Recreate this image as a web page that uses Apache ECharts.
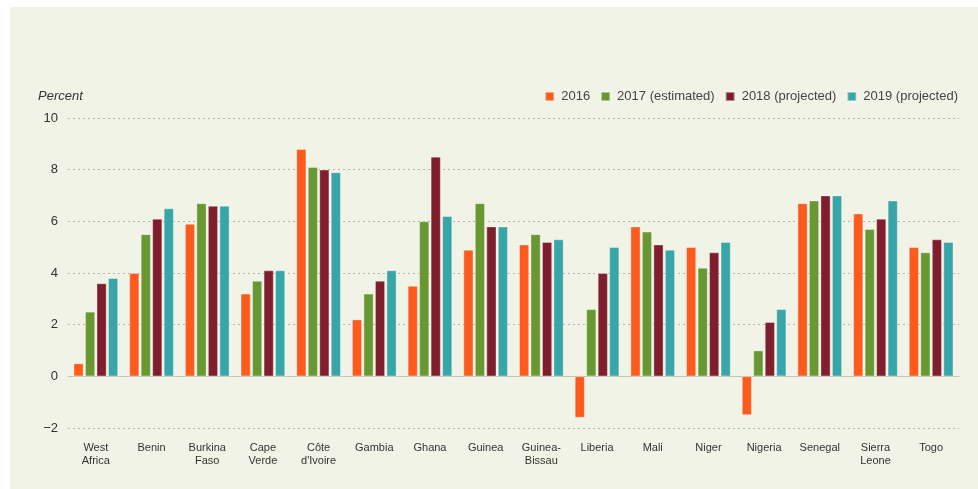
<!DOCTYPE html>
<html>
<head>
<meta charset="utf-8">
<script src="https://cdn.jsdelivr.net/npm/echarts@6/dist/echarts.min.js"></script>
<style>
html,body{margin:0;padding:0;background:#fff;}
#wrap{position:absolute;left:10px;top:7px;width:968px;height:482px;background:#f2f3e7;}
#chart{position:absolute;left:0;top:0;width:978px;height:489px;}
</style>
</head>
<body>
<div id="wrap"></div>
<div id="chart"></div>
<script>
const categories = ["West\nAfrica","Benin","Burkina\nFaso","Cape\nVerde","Côte\nd'Ivoire","Gambia","Ghana","Guinea","Guinea-\nBissau","Liberia","Mali","Niger","Nigeria","Senegal","Sierra\nLeone","Togo"];
const seriesNames = ["2016","2017 (estimated)","2018 (projected)","2019 (projected)"];
const v2016 = [0.5,4.0,5.9,3.2,8.8,2.2,3.5,4.9,5.1,-1.6,5.8,5.0,-1.5,6.7,6.3,5.0];
const v2017 = [2.5,5.5,6.7,3.7,8.1,3.2,6.0,6.7,5.5,2.6,5.6,4.2,1.0,6.8,5.7,4.8];
const v2018 = [3.6,6.1,6.6,4.1,8.0,3.7,8.5,5.8,5.2,4.0,5.1,4.8,2.1,7.0,6.1,5.3];
const v2019 = [3.8,6.5,6.6,4.1,7.9,4.1,6.2,5.8,5.3,5.0,4.9,5.2,2.6,7.0,6.8,5.2];
const yTicks = {min:-2, max:10, interval:2};
const colors = ["#fd5b1e","#689832","#7f1f2e","#38a5a8"];
const allValues = [v2016,v2017,v2018,v2019];

const chart = echarts.init(document.getElementById('chart'), null, {renderer:'canvas'});
const font = "'Liberation Sans', Arial, sans-serif";
chart.setOption({
  backgroundColor: 'transparent',
  animation: false,
  color: colors,
  title: {
    text: 'Percent', left: 38, top: 90, padding: 0,
    textStyle: {fontFamily: font, fontStyle: 'italic', fontWeight: 'normal', fontSize: 13, color: '#333'}
  },
  legend: {
    right: 20, top: 90, itemWidth: 9, itemHeight: 9, itemGap: 10, padding: 0,
    icon: 'rect',
    textStyle: {fontFamily: font, fontSize: 13, color: '#444', padding: [0,0,0,2]},
    data: seriesNames
  },
  grid: {left: 68, right: 19, top: 118, bottom: 61},
  xAxis: {
    type: 'category', data: categories,
    axisTick: {show: false},
    axisLine: {show: true, onZero: true, lineStyle: {color: '#c4c4bc', width: 1}},
    axisLabel: {
      interval: 0, margin: 13, fontFamily: "'Liberation Sans Narrow', 'Liberation Sans', sans-serif",
      fontSize: 11, color: '#333', lineHeight: 13
    },
    position: 'bottom'
  },
  yAxis: {
    type: 'value', min: yTicks.min, max: yTicks.max, interval: yTicks.interval,
    axisLine: {show: false}, axisTick: {show: false},
    axisLabel: {
      margin: 10, fontFamily: font, fontSize: 13, color: '#333',
      formatter: function(v){ return String(v).replace('-', '\u2212'); }
    },
    splitLine: {lineStyle: {color: '#b5b5ad', type: [2,3], width: 1}}
  },
  series: allValues.map(function(vals, i){
    return {
      name: seriesNames[i], type: 'bar', data: vals,
      barWidth: 10, barGap: '15%',
      itemStyle: {color: colors[i], borderColor: 'rgba(255,255,255,0.45)', borderWidth: 0.8}
    };
  })
});
</script>
</body>
</html>
